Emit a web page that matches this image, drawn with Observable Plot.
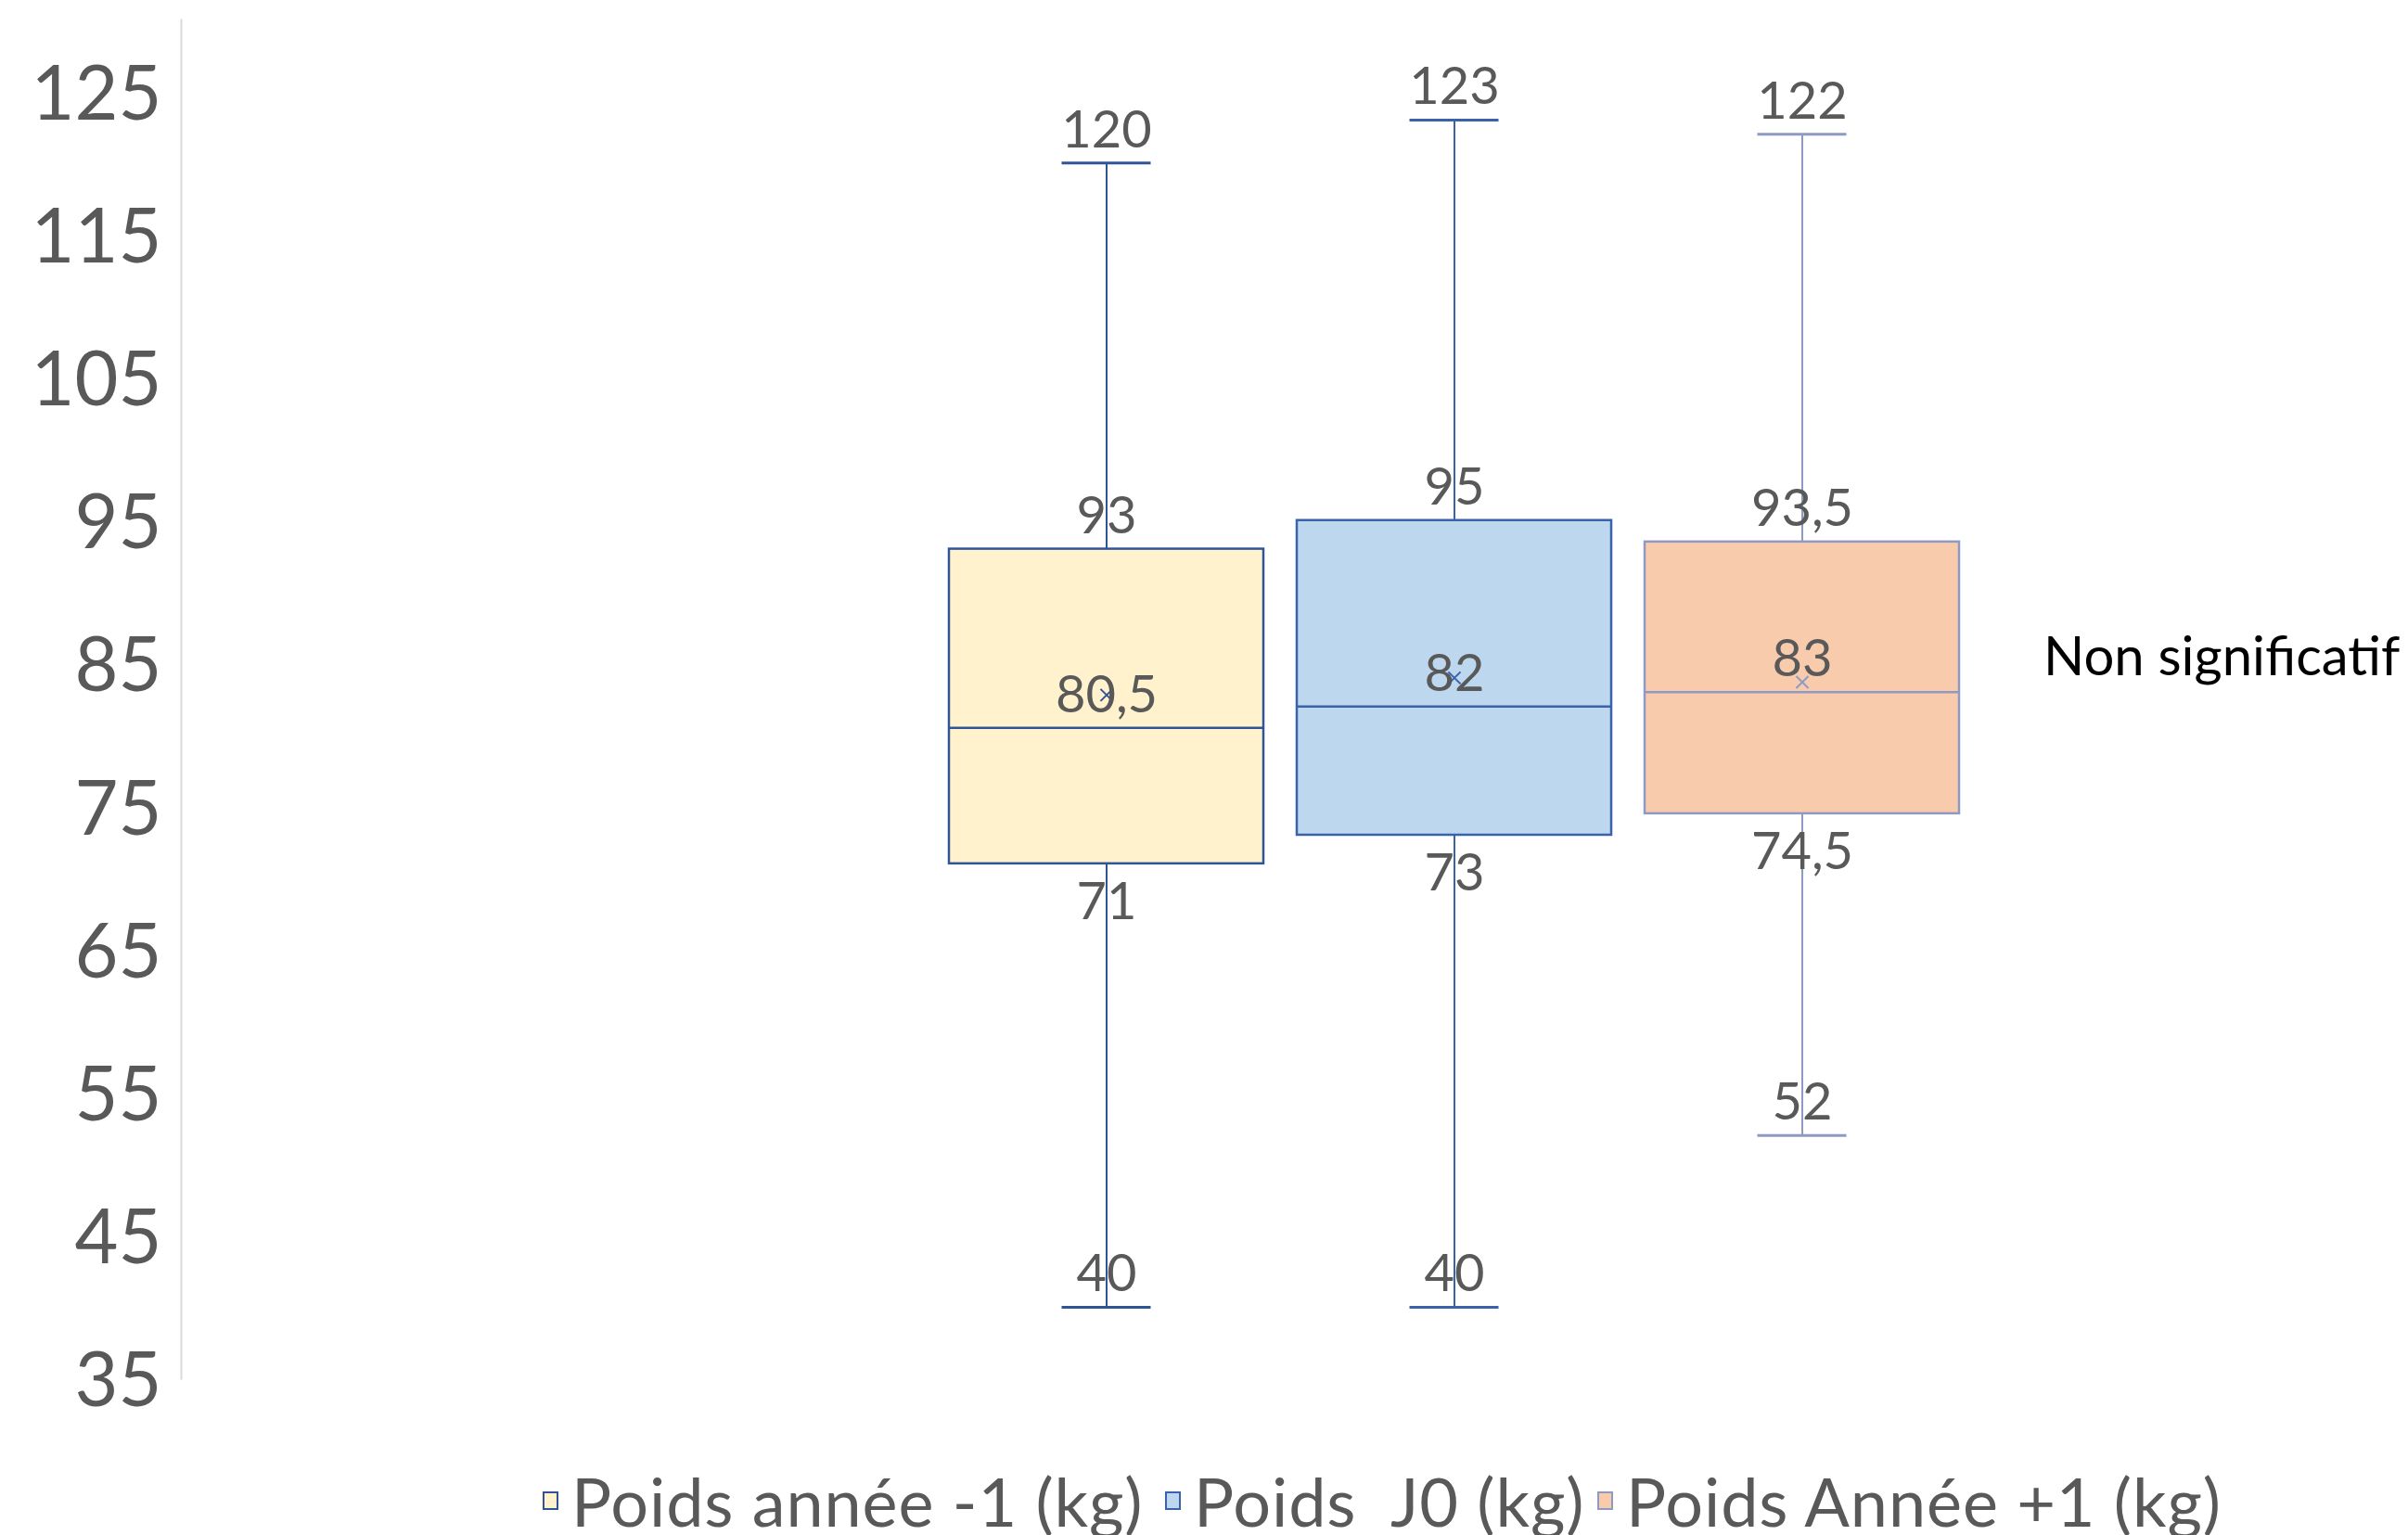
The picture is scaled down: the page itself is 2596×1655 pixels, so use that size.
<!DOCTYPE html>
<html>
<head>
<meta charset="utf-8">
<script src="https://cdn.jsdelivr.net/npm/d3@7"></script>
<script src="https://cdn.jsdelivr.net/npm/@observablehq/plot@0.6"></script>
<style>
  html, body { margin: 0; padding: 0; background: #ffffff; }
  #wrap { position: relative; width: 2596px; height: 1655px; overflow: hidden; font-family: Lato, "Open Sans", sans-serif; }
  #chart svg { display: block; }
  .legend-item { position: absolute; top: 1582px; font-size: 72px; line-height: 1; color: #595959; white-space: pre; letter-spacing: 0.9px; }
  .swatch { display: inline-block; width: 13px; height: 16px; border: 2px solid; margin-right: 14px; margin-bottom: 18px; vertical-align: baseline; }
  #note { position: absolute; left: 2203px; top: 677px; font-size: 58px; line-height: 1; color: #000000; white-space: pre; }
</style>
</head>
<body>
<div id="wrap">
  <div id="chart"></div>
  <div id="legend"></div>
  <div id="note"></div>
</div>
<script>
// ---- data ----
const series  = ["Poids année -1 (kg)", "Poids  J0 (kg)", "Poids Année +1 (kg)"];
const minimum = [40, 40, 52];
const q1      = [71, 73, 74.5];
const median  = [80.5, 82, 83];
const q3      = [93, 95, 93.5];
const maximum = [120, 123, 122];
const mean    = [82.8, 84.0, 83.7];
const yTicks  = [35, 45, 55, 65, 75, 85, 95, 105, 115, 125];
const note    = "Non significatif";

// ---- styles ----
const fills   = ["#FFF2CC", "#BDD7EE", "#F8CBAD"];
const strokes = ["#2F5597", "#3A62AA", "#8E9AC2"];

const rows = series.map((s, i) => ({
  series: s, min: minimum[i], q1: q1[i], median: median[i], q3: q3[i], max: maximum[i], mean: mean[i],
  fill: fills[i], stroke: strokes[i]
}));

const fmt = v => String(v).replace(".", ",");
const above = rows.flatMap(r => [r.max, r.q3, r.median, r.min].map(v => ({series: r.series, value: v})));
const below = rows.map(r => ({series: r.series, value: r.q1}));

const chart = Plot.plot({
  width: 2596,
  height: 1560,
  marginLeft: 195,
  marginRight: 4,
  marginTop: 21,
  marginBottom: 74,
  style: {fontFamily: "Lato, sans-serif", background: "#ffffff", color: "#595959", overflow: "visible"},
  x: {domain: series, range: [1004.5, 2129.5], paddingInner: 0.096, paddingOuter: 0.048, axis: null},
  y: {domain: [35, 130], axis: null},
  marks: [
    Plot.frame({anchor: "left", stroke: "#d9d9d9", strokeWidth: 2}),
    Plot.axisY({ticks: yTicks, tickSize: 0, tickPadding: 21, fontSize: 81, dy: 4, fill: "#595959", label: null}),
    Plot.ruleX(rows, {x: "series", y1: "min", y2: "q1", stroke: "stroke", strokeWidth: 2}),
    Plot.ruleX(rows, {x: "series", y1: "q3", y2: "max", stroke: "stroke", strokeWidth: 2}),
    Plot.tickY(rows, {x: "series", y: "max", stroke: "stroke", strokeWidth: 3, insetLeft: 121.5, insetRight: 121.5}),
    Plot.tickY(rows, {x: "series", y: "min", stroke: "stroke", strokeWidth: 3, insetLeft: 121.5, insetRight: 121.5}),
    Plot.barY(rows, {x: "series", y1: "q1", y2: "q3", fill: "fill", stroke: "stroke", strokeWidth: 2.5}),
    Plot.tickY(rows, {x: "series", y: "median", stroke: "stroke", strokeWidth: 2.5}),
    Plot.dot(rows, {x: "series", y: "mean", symbol: "times", r: 6, stroke: "stroke", strokeWidth: 2}),
    Plot.text(above, {x: "series", y: "value", text: d => fmt(d.value), lineAnchor: "bottom", dy: -17,
      fontSize: 56, fontFamily: "Lato", fill: "#595959"}),
    Plot.text(below, {x: "series", y: "value", text: d => fmt(d.value), lineAnchor: "top", dy: 20,
      fontSize: 56, fontFamily: "Lato", fill: "#595959"})
  ]
});
document.getElementById("chart").append(chart);

// ---- legend ----
const legendLeft = [585, 1256, 1722];
const legend = document.getElementById("legend");
series.forEach((s, i) => {
  const item = document.createElement("div");
  item.className = "legend-item";
  item.style.left = legendLeft[i] + "px";
  const sw = document.createElement("span");
  sw.className = "swatch";
  sw.style.background = fills[i];
  sw.style.borderColor = strokes[i];
  item.append(sw, document.createTextNode(s));
  legend.append(item);
});
document.getElementById("note").textContent = note;
</script>
</body>
</html>
